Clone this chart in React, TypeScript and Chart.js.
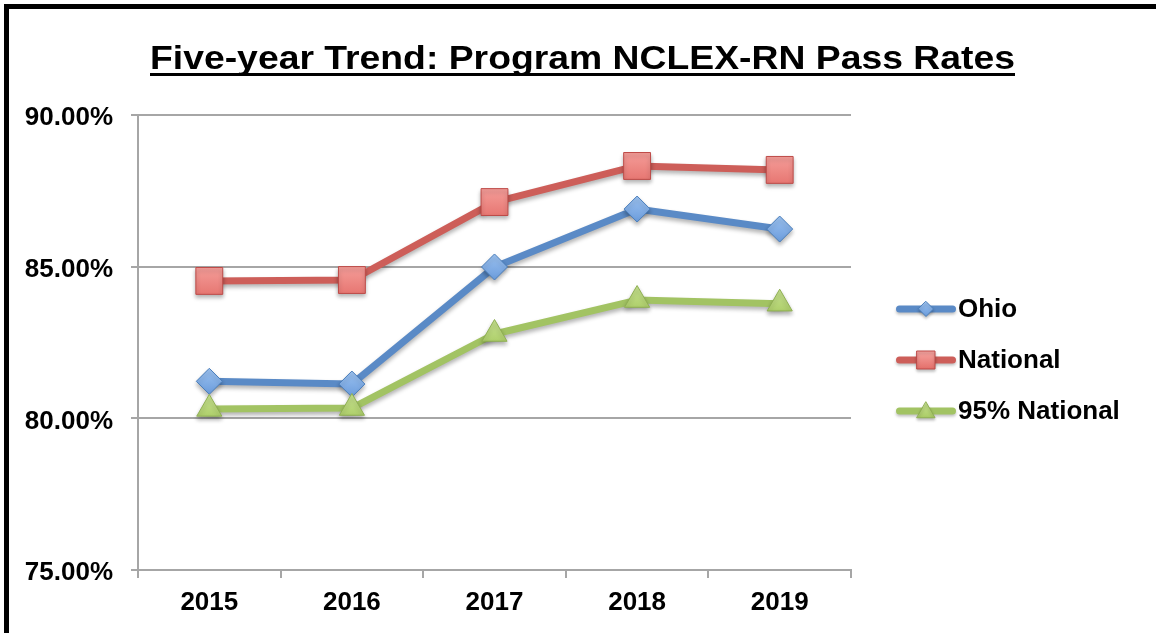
import React, { useEffect, useRef } from 'react';
import { Chart, registerables } from 'chart.js';

Chart.register(...registerables);

const years = ['2015', '2016', '2017', '2018', '2019'];
const ohio = [81.22, 81.13, 84.99, 86.9, 86.24];
const national = [84.53, 84.56, 87.13, 88.32, 88.19];
const national95 = [80.31, 80.34, 82.78, 83.9, 83.78];
const seriesNames = ['Ohio', 'National', '95% National'];
const yMin = 75;
const yMax = 90;
const yStep = 5;
const titleText = 'Five-year Trend: Program NCLEX-RN Pass Rates';

const FONT = '"Liberation Sans", Arial, Helvetica, sans-serif';

const lineColors = ['#5A8AC6', '#CD5E59', '#A2C363'];
const markerBorders = ['#4A7EBB', '#BE4B48', '#8FB052'];
const markerTop = ['#9CC2F0', '#F7A5A1', '#C8E391'];
const markerBottom = ['#6B9CDC', '#E46F6A', '#A6C85F'];
const markerStyles = ['rectRot', 'rect', 'triangle'];
const markerRadius = [13, 19, 14.5];

function gradFill(i: number) {
  return (ctx: any) => {
    const chart = ctx.chart;
    const ys = chart.scales && chart.scales.y;
    if (!ys || ctx.parsed == null) return markerBottom[i];
    const y = ys.getPixelForValue(ctx.parsed.y);
    if (!isFinite(y)) return markerBottom[i];
    const r = markerRadius[i];
    const g = chart.ctx.createLinearGradient(0, y - r, 0, y + r);
    g.addColorStop(0, markerTop[i]);
    g.addColorStop(1, markerBottom[i]);
    return g;
  };
}

function drawMarker(c: CanvasRenderingContext2D, style: string, x: number, y: number, r: number, i: number) {
  c.beginPath();
  if (style === 'rectRot') {
    c.moveTo(x, y - r);
    c.lineTo(x + r, y);
    c.lineTo(x, y + r);
    c.lineTo(x - r, y);
  } else if (style === 'rect') {
    c.rect(x - r, y - r, 2 * r, 2 * r);
  } else {
    c.moveTo(x, y - r);
    c.lineTo(x + r, y + r * 0.75);
    c.lineTo(x - r, y + r * 0.75);
  }
  c.closePath();
  const g = c.createLinearGradient(0, y - r, 0, y + r);
  g.addColorStop(0, markerTop[i]);
  g.addColorStop(1, markerBottom[i]);
  c.fillStyle = g;
  c.fill();
  c.lineWidth = 1;
  c.strokeStyle = markerBorders[i];
  c.stroke();
}

const shadowPlugin = {
  id: 'shadowPlugin',
  beforeDatasetDraw(chart: any) {
    const c = chart.ctx;
    c.save();
    c.shadowColor = 'rgba(0,0,0,0.3)';
    c.shadowBlur = 4;
    c.shadowOffsetX = 0;
    c.shadowOffsetY = 3;
  },
  afterDatasetDraw(chart: any) {
    chart.ctx.restore();
  },
};

const titlePlugin = {
  id: 'titlePlugin',
  afterDraw(chart: any) {
    const c: CanvasRenderingContext2D = chart.ctx;
    c.save();
    c.font = `bold 33px ${FONT}`;
    c.fillStyle = '#000';
    c.textAlign = 'center';
    c.textBaseline = 'alphabetic';
    const cx = 582.5;
    const targetW = 865;
    const w = c.measureText(titleText).width;
    const sx = targetW / w;
    c.translate(cx, 0);
    c.scale(sx, 1);
    c.fillText(titleText, 0, 69);
    c.fillRect(-w / 2, 73, w, 3);
    c.restore();
  },
};

const legendPlugin = {
  id: 'legendPlugin',
  afterDraw(chart: any) {
    const c: CanvasRenderingContext2D = chart.ctx;
    const legendSizes = [7.5, 9, 9];
    seriesNames.forEach((name, i) => {
      const y = 309 + i * 51;
      c.save();
      c.shadowColor = 'rgba(0,0,0,0.25)';
      c.shadowBlur = 3;
      c.shadowOffsetY = 2;
      c.beginPath();
      c.lineWidth = 7;
      c.lineCap = 'round';
      c.strokeStyle = lineColors[i];
      c.moveTo(899.5, y);
      c.lineTo(952.5, y);
      c.stroke();
      drawMarker(c, markerStyles[i], 926, y, legendSizes[i], i);
      c.restore();
      c.save();
      c.font = `bold 26px ${FONT}`;
      c.fillStyle = '#000';
      c.textAlign = 'left';
      c.textBaseline = 'middle';
      c.fillText(name, 958, y + 1);
      c.restore();
    });
  },
};

export default function App() {
  const ref = useRef<HTMLCanvasElement | null>(null);

  useEffect(() => {
    document.body.style.margin = '0';
    const canvas = ref.current;
    if (!canvas) return;
    const series = [ohio, national, national95];
    const chart = new Chart(canvas, {
      type: 'line',
      data: {
        labels: years,
        datasets: series.map((d, i) => ({
          label: seriesNames[i],
          data: d,
          borderColor: lineColors[i],
          borderWidth: 7,
          borderCapStyle: 'round',
          borderJoinStyle: 'round',
          tension: 0,
          fill: false,
          order: 3 - i,
          pointStyle: markerStyles[i],
          pointRadius: markerRadius[i],
          pointHoverRadius: markerRadius[i],
          pointBackgroundColor: gradFill(i),
          pointBorderColor: markerBorders[i],
          pointBorderWidth: 1,
        })) as any,
      },
      options: {
        responsive: false,
        devicePixelRatio: 1,
        animation: false,
        events: [],
        layout: { padding: { left: 0, right: 305, top: 115, bottom: 0 } },
        plugins: {
          legend: { display: false },
          title: { display: false },
          tooltip: { enabled: false },
        },
        scales: {
          x: {
            type: 'category',
            offset: true,
            grid: {
              display: true,
              offset: true,
              drawOnChartArea: false,
              drawTicks: true,
              tickLength: 8,
              color: '#A6A6A6',
              lineWidth: 2,
            },
            border: { display: true, color: '#A6A6A6', width: 2 },
            ticks: {
              color: '#000',
              font: { family: FONT, size: 26, weight: 'bold' },
              padding: 9,
              maxRotation: 0,
            },
            afterFit(scale: any) {
              scale.height = 63;
            },
          },
          y: {
            min: yMin,
            max: yMax,
            grid: {
              color: '#A6A6A6',
              lineWidth: 2,
              drawTicks: true,
              tickLength: 7,
            },
            border: { display: true, color: '#A6A6A6', width: 2 },
            ticks: {
              stepSize: yStep,
              color: '#000',
              padding: 18,
              labelOffset: 3,
              font: { family: FONT, size: 26, weight: 'bold' },
              callback: (v: any) => Number(v).toFixed(2) + '%',
            },
            afterFit(scale: any) {
              scale.width = 138;
            },
          },
        },
      } as any,
      plugins: [shadowPlugin, titlePlugin, legendPlugin],
    });
    return () => chart.destroy();
  }, []);

  return (
    <div style={{ position: 'relative', width: 1156, height: 633, overflow: 'hidden', background: '#fff' }}>
      <canvas ref={ref} width={1156} height={633} style={{ position: 'absolute', left: 0, top: 0 }} />
      <div
        style={{
          position: 'absolute',
          left: 4,
          top: 4,
          width: 1300,
          height: 800,
          borderLeft: '5px solid #000',
          borderTop: '5px solid #000',
          pointerEvents: 'none',
        }}
      />
    </div>
  );
}
